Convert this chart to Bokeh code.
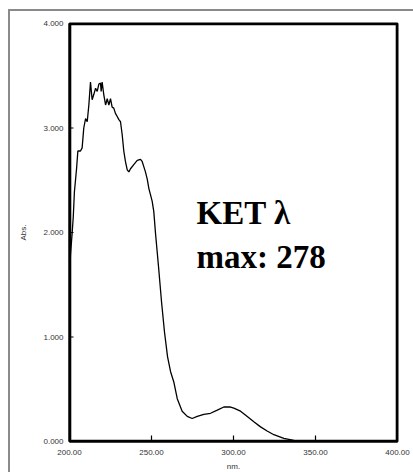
from bokeh.plotting import figure
from bokeh.models import Range1d, FixedTicker, NumeralTickFormatter, Label
from bokeh.layouts import column
from bokeh.embed import file_html
from bokeh.resources import INLINE

# Wavelength (nm) and absorbance
wavelength = [200.0, 200.6, 201.6, 202.3, 203.0, 204.3, 205.1, 206.7, 207.7, 208.7,
              209.8, 210.8, 211.8, 212.8, 213.8, 214.8, 215.9, 216.9, 217.9, 218.9,
              219.3, 219.9, 220.9, 222.0, 223.0, 224.0, 225.0, 226.0, 227.0, 228.0,
              229.1, 230.1, 231.1, 232.1, 233.1, 234.1, 235.2, 236.2, 237.2, 239.2,
              241.3, 243.3, 244.3, 245.3, 246.3, 247.4, 248.4, 249.4, 250.4, 251.4,
              252.4, 254.3, 256.1, 257.9, 259.8, 261.6, 263.6, 265.7, 268.7, 271.8,
              274.8, 277.9, 281.9, 286.0, 290.1, 294.1, 298.2, 300.2, 304.3, 308.4,
              312.4, 316.5, 320.5, 324.6, 330.7, 336.8, 341.9, 345.0]
absorbance = [1.53, 1.79, 1.99, 2.15, 2.39, 2.61, 2.78, 2.78, 2.81, 3.00,
              3.09, 3.06, 3.22, 3.44, 3.27, 3.32, 3.38, 3.35, 3.42, 3.43,
              3.35, 3.44, 3.32, 3.22, 3.28, 3.22, 3.28, 3.20, 3.19, 3.14,
              3.11, 3.08, 3.06, 2.94, 2.78, 2.68, 2.60, 2.58, 2.61, 2.65,
              2.69, 2.70, 2.68, 2.63, 2.58, 2.51, 2.42, 2.36, 2.30, 2.20,
              2.00, 1.67, 1.34, 1.05, 0.81, 0.67, 0.57, 0.41, 0.29, 0.24,
              0.22, 0.24, 0.26, 0.27, 0.30, 0.33, 0.33, 0.32, 0.29, 0.24,
              0.19, 0.14, 0.10, 0.065, 0.03, 0.01, 0.0, 0.0]

x_ticks = [200, 250, 300, 350, 400]
y_ticks = [0, 1, 2, 3, 4]
annotation_lines = ["KET \u03bb", "max: 278"]

x_min, x_max = x_ticks[0], x_ticks[-1]
y_min, y_max = y_ticks[0], y_ticks[-1]

p = figure(width=403, height=462, output_backend="svg", toolbar_location=None,
           x_range=Range1d(x_min, x_max), y_range=Range1d(y_min, y_max),
           min_border_left=59, min_border_right=16, min_border_top=12, min_border_bottom=32,
           background_fill_color=None, border_fill_color=None,
           outline_line_color="black", outline_line_width=2)
p.xgrid.grid_line_color = None
p.ygrid.grid_line_color = None

p.axis.axis_line_color = "black"
p.axis.axis_line_width = 2
p.axis.major_tick_line_color = "black"
p.axis.major_tick_line_width = 1
p.axis.major_tick_in = 0
p.axis.major_tick_out = 0
p.axis.minor_tick_line_color = None
p.axis.major_label_text_font = "Liberation Sans"
p.axis.major_label_text_font_size = "8px"
p.axis.major_label_text_color = "#333333"
p.axis.axis_label_text_font = "Liberation Sans"
p.axis.axis_label_text_font_size = "8px"
p.axis.axis_label_text_font_style = "normal"
p.axis.axis_label_text_color = "#333333"

p.xaxis.ticker = FixedTicker(ticks=x_ticks)
p.xaxis.formatter = NumeralTickFormatter(format="0.00")
p.xaxis.major_label_standoff = 8
p.xaxis.axis_label = "nm."
p.xaxis.axis_label_standoff = 4

p.yaxis.ticker = FixedTicker(ticks=y_ticks)
p.yaxis.formatter = NumeralTickFormatter(format="0.000")
p.yaxis.major_label_standoff = 6
p.yaxis.axis_label = "Abs."
p.yaxis.axis_label_standoff = 12

# Frame edges and inward ticks as thin filled bars inside the plot area
px_x = (x_max - x_min) / 328.0   # data units per pixel along x
px_y = (y_max - y_min) / 418.0   # data units per pixel along y
edge = 1.8
p.quad(left=[x_min, x_max - edge * px_x, x_min, x_min],
       right=[x_min + edge * px_x, x_max, x_max, x_max],
       bottom=[y_min, y_min, y_min, y_max - edge * px_y],
       top=[y_max, y_max, y_min + edge * px_y, y_max],
       fill_color="black", line_color=None)
inner_x = x_ticks[1:-1]
p.quad(left=[t - 0.6 * px_x for t in inner_x], right=[t + 0.6 * px_x for t in inner_x],
       bottom=[y_min] * len(inner_x), top=[y_min + 6 * px_y] * len(inner_x),
       fill_color="black", line_color=None)
inner_y = y_ticks[1:-1]
p.quad(left=[x_min] * len(inner_y), right=[x_min + 4 * px_x] * len(inner_y),
       bottom=[t - 0.6 * px_y for t in inner_y], top=[t + 0.6 * px_y for t in inner_y],
       fill_color="black", line_color=None)

p.line(wavelength, absorbance, line_color="black", line_width=1.3)

# Annotation text
p.add_layout(Label(x=277.5, y=2.01, text=annotation_lines[0], text_font="Liberation Serif",
                   text_font_style="bold", text_font_size="33px", text_color="black"))
p.add_layout(Label(x=277.5, y=1.595, text=annotation_lines[1], text_font="Liberation Serif",
                   text_font_style="bold", text_font_size="33px", text_color="black"))

layout = column(p, margin=(9, 0, 0, 8),
                styles={"border-left": "2px solid #8a8a8a", "border-top": "2px solid #8a8a8a"})

open("out.html", "w").write(file_html(layout, INLINE))
